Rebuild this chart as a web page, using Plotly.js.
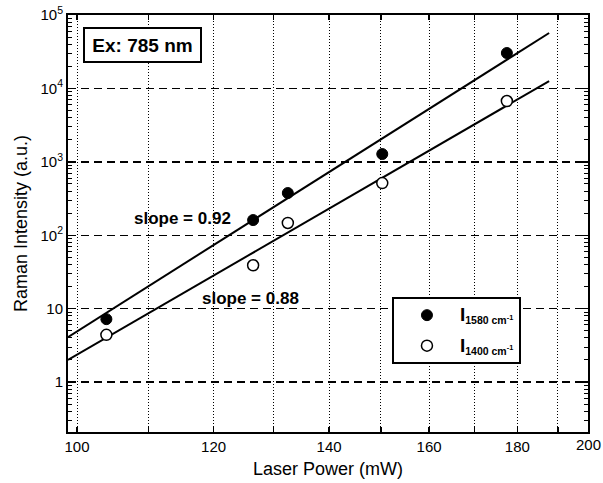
<!DOCTYPE html>
<html>
<head>
<meta charset="utf-8">
<script src="https://cdn.plot.ly/plotly-3.0.1.min.js"></script>
<style>
  html, body { margin: 0; padding: 0; background: #fff; }
  #chart { width: 603px; height: 483px; }
</style>
</head>
<body>
<div id="chart"></div>
<script>
// Laser power (mW) at which the spectra were taken
const laserPower = [104, 126.5, 132.5, 150.3, 177.5];
// Peak intensities (a.u.) of the two Raman bands
const intensity1580 = [7.2, 161, 376, 1277, 30350];
const intensity1400 = [4.4, 39, 147, 514, 6730];

// End points of the fitted lines
const fitPower = [98.8, 187.8];
const fit1580 = [4.1, 56900];
const fit1400 = [2.0, 12600];

// Axis ticks
const xTickVals = [100, 110, 120, 130, 140, 150, 160, 170, 180, 190];
const xTickText = ['100', '', '120', '', '140', '', '160', '', '180', ''];
const yTickVals = [1, 10, 100, 1000, 10000, 100000];
const yTickText = ['1', '10', '10<sup>2</sup>', '10<sup>3</sup>', '10<sup>4</sup>', '10<sup>5</sup>'];

const FONT = 'Liberation Sans, Arial, Helvetica, sans-serif';

const traces = [
  {
    x: fitPower, y: fit1580, mode: 'lines', showlegend: false,
    line: { color: '#000', width: 2 }, hoverinfo: 'skip'
  },
  {
    x: fitPower, y: fit1400, mode: 'lines', showlegend: false,
    line: { color: '#000', width: 2 }, hoverinfo: 'skip'
  },
  {
    x: laserPower, y: intensity1580, mode: 'markers', legendgroup: 'g1580',
    name: '<b><span style="font-size:19px">I</span><sub>1580 cm<sup>-1</sup></sub></b>',
    marker: { symbol: 'circle', size: 11, color: '#000', line: { color: '#000', width: 1 } }
  },
  {
    x: laserPower, y: intensity1400, mode: 'markers', legendgroup: 'g1400',
    name: '<b><span style="font-size:19px">I</span><sub>1400 cm<sup>-1</sup></sub></b>',
    marker: { symbol: 'circle', size: 11, color: '#fff', line: { color: '#000', width: 1.5 } }
  }
];

const layout = {
  width: 603, height: 483,
  margin: { l: 68, r: 15, t: 15, b: 51 },
  paper_bgcolor: '#fff', plot_bgcolor: '#fff',
  font: { family: FONT, color: '#000', size: 15 },
  showlegend: true,
  legend: {
    x: 0.623, y: 0.324, xanchor: 'left', yanchor: 'top',
    bgcolor: '#fff', bordercolor: '#000', borderwidth: 2,
    itemwidth: 56, tracegroupgap: 8,
    font: { family: FONT, size: 15, color: '#000' }
  },
  xaxis: {
    type: 'log', range: [1.99478, 2.29623],
    tickmode: 'array', tickvals: xTickVals, ticktext: xTickText,
    ticks: 'inside', ticklen: 5, tickwidth: 1.5, tickcolor: '#000',
    showline: true, linewidth: 2, linecolor: '#000', mirror: 'allticks',
    showgrid: true, gridcolor: '#000', gridwidth: 1, griddash: '1px,2px',
    zeroline: false,
    tickfont: { family: FONT, size: 15, color: '#000' },
    title: { text: 'Laser Power (mW)', font: { family: FONT, size: 18, color: '#000' }, standoff: 8 }
  },
  yaxis: {
    type: 'log', range: [-0.68, 5],
    tickmode: 'array', tickvals: yTickVals, ticktext: yTickText,
    ticks: 'inside', ticklen: 8, tickwidth: 1.5, tickcolor: '#000',
    minor: { ticks: 'inside', ticklen: 4, tickwidth: 1, tickcolor: '#000', dtick: 'D1', showgrid: false },
    showline: true, linewidth: 2, linecolor: '#000', mirror: 'allticks',
    showgrid: true, gridcolor: '#000', gridwidth: 1.5, griddash: '8px,5px',
    zeroline: false,
    tickfont: { family: FONT, size: 15, color: '#000' },
    title: { text: 'Raman Intensity (a.u.)', font: { family: FONT, size: 18, color: '#000' }, standoff: 8 }
  },
  annotations: [
    {
      xref: 'paper', yref: 'paper', x: 0.1433, y: 0.928, xanchor: 'center', yanchor: 'middle',
      text: '<b>Ex: 785 nm</b>', showarrow: false,
      font: { family: FONT, size: 19, color: '#000' },
      width: 109, height: 26,
      bgcolor: '#fff', bordercolor: '#000', borderwidth: 2, borderpad: 3
    },
    {
      xref: 'paper', yref: 'paper', x: 0.221, y: 0.513, xanchor: 'center', yanchor: 'middle',
      text: '<b>slope = 0.92</b>', showarrow: false,
      font: { family: FONT, size: 17, color: '#000' }
    },
    {
      xref: 'paper', yref: 'paper', x: 0.35, y: 0.321, xanchor: 'center', yanchor: 'middle',
      text: '<b>slope = 0.88</b>', showarrow: false,
      font: { family: FONT, size: 17, color: '#000' }
    },
    {
      xref: 'paper', yref: 'paper', x: 1, y: 0, xanchor: 'center', yanchor: 'top', yshift: -2,
      text: '200', showarrow: false,
      font: { family: FONT, size: 15, color: '#000' }
    }
  ]
};

Plotly.newPlot('chart', traces, layout, { displayModeBar: false, staticPlot: true });
</script>
</body>
</html>
